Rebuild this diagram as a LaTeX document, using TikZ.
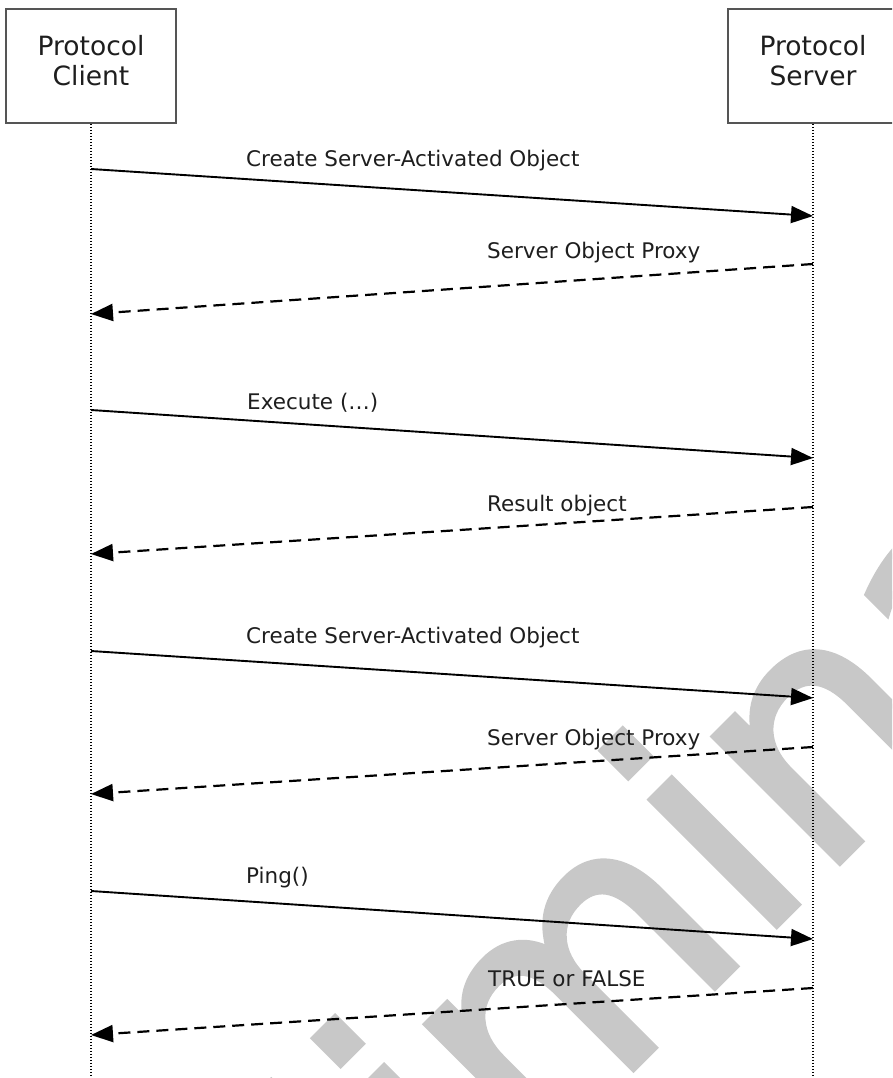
\documentclass[tikz,border=0pt]{standalone}
\usepackage{fontspec}
\setmainfont{DejaVu Sans}
\newfontfamily\wmfont[FakeBold=2]{DejaVu Sans}
\usetikzlibrary{arrows.meta}
\definecolor{wm}{RGB}{200,200,200}
\definecolor{txt}{RGB}{30,30,30}
\definecolor{boxline}{RGB}{85,85,85}
\begin{document}
\begin{tikzpicture}[x=1pt,y=-1pt,
  actor/.style={draw=boxline, line width=1.8pt, minimum width=170pt, minimum height=114pt, inner sep=0pt},
  ttl/.style={font=\fontsize{26.5}{30}\selectfont, text=txt, anchor=base, inner sep=0pt},
  lbl/.style={font=\fontsize{21.5}{24}\selectfont, text=txt, anchor=base west, inner sep=0pt},
  life/.style={line width=1.3pt, dash pattern=on 1.3pt off 1.7pt},
  call/.style={line width=1.9pt, -{Triangle[length=22pt,width=17pt]}},
  reply/.style={line width=2.2pt, dash pattern=on 12pt off 7pt, -{Triangle[length=22pt,width=17pt]}},
  wmark/.style={font=\wmfont\fontsize{325}{325}\selectfont, text=wm, rotate=45, anchor=base west, inner sep=0pt}
]
\useasboundingbox (0,0) rectangle (892,1078);
\clip (0,0) rectangle (892,1078);
% watermark
\node[wmark] (watermark) at (38,1664) {Preliminary};
% actors
\node[actor] (client) at (91,66) {};
\node[actor] (server) at (813,66) {};
\node[ttl] (clientT1) at (91,56) {Protocol};
\node[ttl] (clientT2) at (91,86) {Client};
\node[ttl] (serverT1) at (813,56) {Protocol};
\node[ttl] (serverT2) at (813,86) {Server};
% lifelines
\coordinate (clientEnd) at (91,1078);
\coordinate (serverEnd) at (813,1078);
\draw[life] (client.south) -- (clientEnd);
\draw[life] (server.south) -- (serverEnd);
% message end points
\coordinate (c1) at (91,169);  \coordinate (s1) at (813,216);
\coordinate (s2) at (813,264); \coordinate (c2) at (91,314);
\coordinate (c3) at (91,410);  \coordinate (s3) at (813,458);
\coordinate (s4) at (813,507); \coordinate (c4) at (91,554);
\coordinate (c5) at (91,651);  \coordinate (s5) at (813,698);
\coordinate (s6) at (813,747); \coordinate (c6) at (91,794);
\coordinate (c7) at (91,891);  \coordinate (s7) at (813,939);
\coordinate (s8) at (813,988); \coordinate (c8) at (91,1035);
% messages
\draw[call] (c1) -- (s1);
\draw[reply] (s2) -- (c2);
\draw[call] (c3) -- (s3);
\draw[reply] (s4) -- (c4);
\draw[call] (c5) -- (s5);
\draw[reply] (s6) -- (c6);
\draw[call] (c7) -- (s7);
\draw[reply] (s8) -- (c8);
% labels
\node[lbl] (m1) at (246,167) {Create Server-Activated Object};
\node[lbl] (m2) at (487,258) {Server Object Proxy};
\node[lbl] (m3) at (247,409) {Execute (…)};
\node[lbl] (m4) at (487,511) {Result object};
\node[lbl] (m5) at (246,643) {Create Server-Activated Object};
\node[lbl] (m6) at (487,745) {Server Object Proxy};
\node[lbl] (m7) at (246,883) {Ping()};
\node[lbl] (m8) at (488,986) {TRUE or FALSE};
\end{tikzpicture}
\end{document}
